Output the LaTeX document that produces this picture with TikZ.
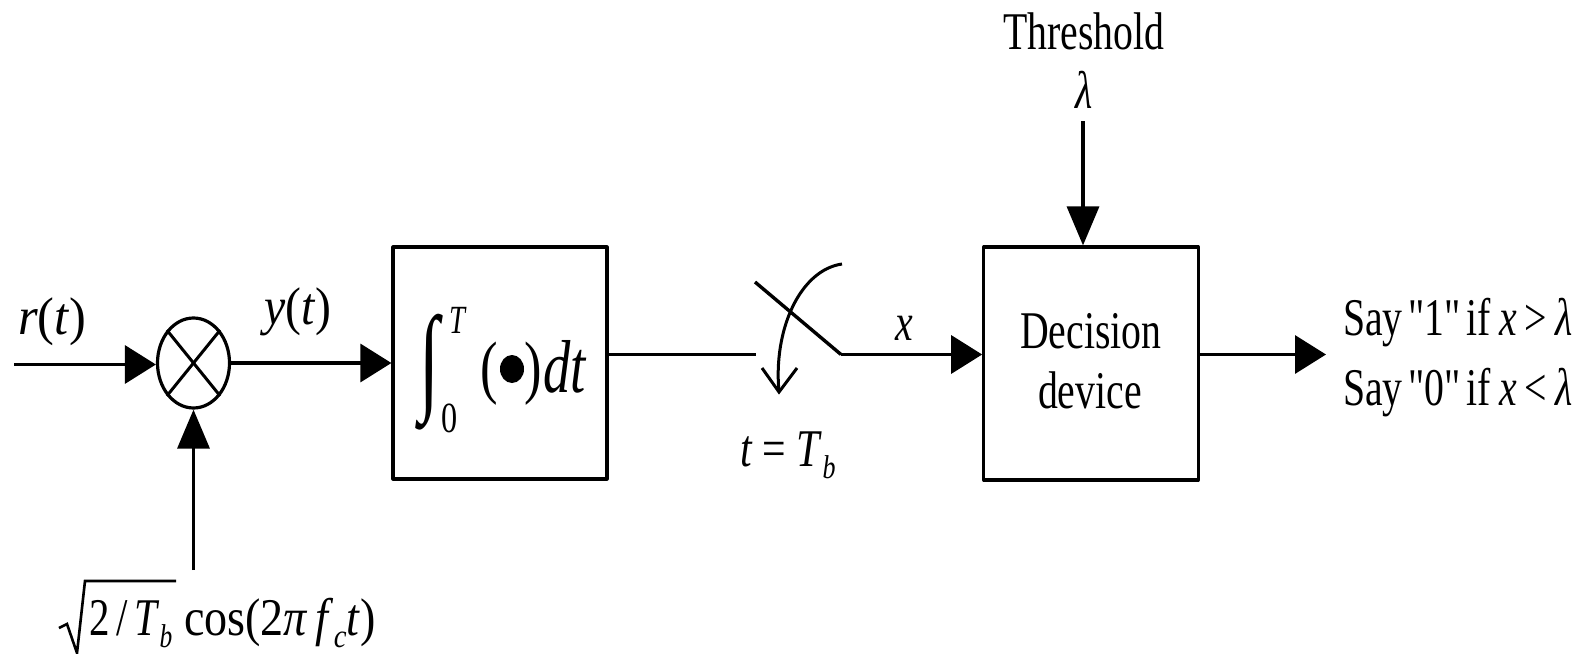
\documentclass[tikz,border=0pt]{standalone}
\usepackage{graphicx}
\usepackage{fontspec}
\setmainfont{Liberation Serif}
\newfontfamily\plainq{Liberation Serif}
\usetikzlibrary{arrows.meta,shapes.geometric}
\newcommand{\fs}[1]{\fontsize{#1}{#1}\selectfont}
\newcommand{\lowsub}[1]{\raisebox{-.24em}{\fs{33}\textit{#1}}}
\newcommand{\qq}{{\plainq\fs{53}"}}
\newcommand{\ns}{\hspace{.14em}}
\tikzset{
  lbl/.style={inner sep=0pt,outer sep=0pt,anchor=base west,font=\fs{53},xscale=.75,transform shape},
  wire/.style={line width=3.4pt,line cap=butt},
  flow/.style={wire,-{Triangle[length=31pt,width=38pt]}},
  flowv/.style={wire,-{Triangle[length=39pt,width=32pt]}},
  blockbox/.style={draw,line width=3.2pt,inner sep=0pt,line join=round}
}
\begin{document}
\begin{tikzpicture}[x=1pt,y=-1pt]
\useasboundingbox (0,0) rectangle (1584,653);
% shapes
\node[blockbox,minimum width=214pt,minimum height=232pt] (box1) at (500,363) {};
\node[blockbox,minimum width=214.5pt,minimum height=233pt] (box2) at (1091,363.5) {};
\node[draw,ellipse,line width=3.2pt,inner sep=0pt,minimum width=72pt,minimum height=90pt] (mult) at (193.5,363) {};
\draw[line width=3pt] (mult.51) -- (mult.231);
\draw[line width=3pt] (mult.129) -- (mult.309);
\node[fill=black,ellipse,inner sep=0pt,minimum width=24pt,minimum height=28pt] (dot) at (512,369) {};
% free ends
\coordinate (inp) at (14,364.5);
\coordinate (osc) at (193.5,570);
\coordinate (swL) at (756,354.5);
\coordinate (swR) at (841,354.5);
\coordinate (swT) at (755,282);
\coordinate (thr) at (1083,121);
\coordinate (outp) at (1326,354.5);
\coordinate (cT) at (842,264);
\coordinate (cB) at (779,392);
\coordinate (wA) at (762,368);
\coordinate (wB) at (797,368);
% connectors
\draw[flow] (inp) -- (inp -| mult.west);
\draw[flow] (mult.east) -- (box1.west);
\draw[flowv] (osc) -- (mult.south);
\draw[wire] (box1.east |- swL) -- (swL);
\draw[wire] (swT) -- (swR);
\draw[flow] (swR) -- (swR -| box2.west);
\draw[flowv] (thr) -- (thr |- box2.north);
\draw[flow] (box2.east |- outp) -- (outp);
\draw[line width=3pt] (cT) .. controls (800,270) and (773,330) .. (cB);
\draw[line width=3pt,line join=miter] (wA) -- (cB) -- (wB);
% labels
\node[lbl,xscale=1.27] (rt) at (18,334) {\textit{r}(\textit{t})};
\node[lbl,xscale=1.2] (yt) at (264,324) {\textit{y}(\textit{t})};
\node[inner sep=0pt] (intg) at (429,372.5) {\resizebox*{20pt}{116pt}{\fs{100}∫}};
\node[lbl,font=\fs{40},xscale=.95] (upper) at (449,333) {\textit{T}};
\node[lbl,font=\fs{43}] (lower) at (441,432) {0};
\node[lbl,font=\fs{70}] (lp) at (480,390) {(};
\node[lbl,font=\fs{70}] (rp) at (524,390) {)};
\node[lbl,font=\fs{75},xscale=.97] (dt) at (543,392) {\textit{dt}};
\node[lbl] (xl) at (895,340) {\textit{x}};
\node[lbl,xscale=1.05] (tt) at (740,466) {\textit{t} = \textit{T}\lowsub{b}};
\node[lbl] (dec1) at (1020,348) {Decision};
\node[lbl] (dec2) at (1038,408) {device};
\node[lbl] (th) at (1003,49) {Threshold};
\node[lbl] (lam) at (1075,108) {\textit{λ}};
\node[lbl] (say1) at (1343,335) {Say\ns\qq1\qq\ns if\hspace{.22em}\textit{x}\hspace{.2em}>\hspace{.2em}\textit{λ}};
\node[lbl] (say0) at (1343,405) {Say\ns\qq0\qq\ns if\hspace{.22em}\textit{x}\hspace{.2em}<\hspace{.2em}\textit{λ}};
\node[lbl,xscale=1.03] (sq) at (89,635) {2\,/\,\textit{T}\lowsub{b}};
\node[lbl,xscale=1.16] (cosn) at (184,635) {cos(2\textit{π}\,\textit{f}\lowsub{c}\textit{t})};
\draw[line width=2.6pt,line join=miter] (59,628) -- (67,624) -- (77,653) -- (85,581) -- (176,581);
\end{tikzpicture}
\end{document}
